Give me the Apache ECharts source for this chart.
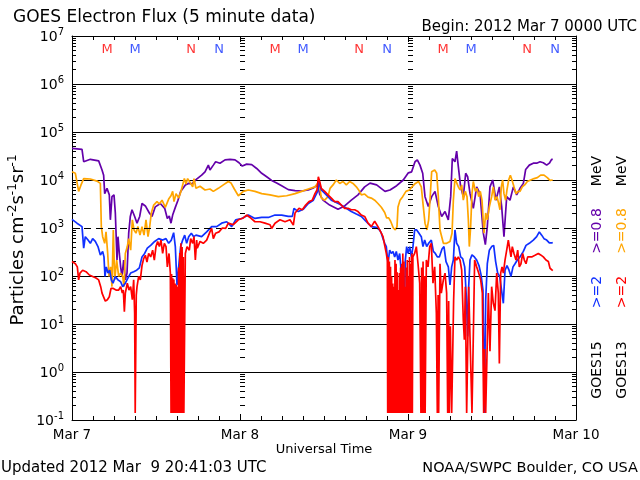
<!DOCTYPE html>
<html><head><meta charset="utf-8">
<script src="https://cdn.jsdelivr.net/npm/echarts@6.0.0/dist/echarts.min.js"></script>
<style>html,body{margin:0;padding:0;background:#fff}#c{width:640px;height:480px}</style>
</head><body><div id="c"></div>
<script>
// Hours since 2012 Mar 7 00:00 UTC, flux in particles cm^-2 s^-1 sr^-1
const xLabels = ['Mar 7', 'Mar 8', 'Mar 9', 'Mar 10'];
const yExp = ['-1', '0', '1', '2', '3', '4', '5', '6', '7'];

// GOES15 >=0.8 MeV (purple)
const g15Lo = [[0,45700],[1.43,43600],[1.67,24000],[2.62,27000],[3.81,25000],[4.29,16200],[4.52,12600],[4.67,5200],[5.0,6700],[5.33,4900],[5.48,1480],[5.71,4500],[6.0,4900],[6.19,2050],[6.43,215],[6.57,660],[6.76,295],[6.95,155],[7.14,98],[7.38,215],[7.62,83],[7.86,115],[8.1,780],[8.33,1740],[8.57,2400],[8.95,1740],[9.29,1260],[9.67,1740],[10.0,3240],[10.48,2880],[11.05,2050],[11.43,1740],[11.9,2760],[12.62,3240],[13.24,2570],[13.62,1580],[13.9,1780],[14.14,1260],[14.38,1860],[14.76,2690],[15.14,3800],[15.52,5750],[15.86,6700],[16.19,7900],[16.67,8500],[17.14,8300],[17.71,10200],
[18.52,12600],[19.0,14800],[19.48,20400],[19.71,16200],[20.19,20400],[20.52,24000],[21.14,22400],[21.86,26300],[22.57,26900],[23.29,26300],[23.86,22900],[24.33,19500],[24.95,21400],[25.67,20900],[26.38,17400],[27.1,13800],[27.81,11700],[28.52,9800],[29.24,8700],[29.95,7600],[30.9,6300],[31.86,6000],[32.81,5900],[33.76,6200],[34.48,6800],[35.1,7900],
[35.4,5000],[35.86,3800],[36.81,3000],[38.0,2450],[38.95,2880],[39.9,3800],[40.86,4900],[41.81,7200],[42.57,8600],
[43.52,7900],[44.71,5800],[45.43,6200],[46.38,7600],[47.33,10000],[48.05,14100],[48.52,14800],[49.0,24000],[49.33,26300],[49.71,20400],[50.1,13800],[50.43,4500],[50.9,2800],[51.38,4500],[51.86,5800],[52.33,2800],[52.81,1740],[53.29,2200],[53.76,1480],[54.1,4500],[54.33,28000],[54.71,24000],[54.95,40000],[55.19,19000],[55.52,7200],[55.9,4500],[56.24,13800],[56.52,11700],[56.86,5200],[57.33,2570],[57.81,7200],[58.29,5200],[58.76,780],[59.05,450],[59.33,1070],[59.71,7200],[60.1,10000],[60.57,3800],[61.05,7200],[61.38,2800],[61.71,660],[62.1,4500],[62.57,3800],[63.05,7200],[63.52,4900],[64.0,6700],[64.48,8500],[64.81,16600],[65.33,20400],[65.9,22400],[66.38,22400],[66.86,24000],[67.33,22900],[67.81,20400],[68.19,22400],[68.52,26900],[68.68,27000]];

// GOES13 >=0.8 MeV (orange)
const g13Lo = [[0,14800],[0.48,13800],[0.95,5800],[1.29,7900],[1.67,10700],[2.62,10500],[3.57,9500],[4.05,8500],[4.19,1070],[4.38,660],[4.67,480],[4.86,830],[5.1,295],[5.29,98],[5.52,155],[5.71,60],[5.9,910],[6.1,83],[6.38,215],[6.67,98],[6.95,115],[7.24,98],[7.43,60],[7.62,295],[7.9,410],[8.1,600],[8.38,345],[8.62,1480],[8.86,910],[9.14,780],[9.43,1070],[9.71,710],[10.0,1070],[10.29,710],[10.57,1480],[10.86,660],[11.1,1070],[11.33,2050],[11.67,3000],[12.14,3550],[12.48,3160],[12.86,3800],[13.33,2690],[13.81,4000],[14.14,4700],[14.38,5800],[14.57,3550],[14.86,5200],[15.24,4200],[15.52,5500],[15.81,7900],[16.05,10700],[16.29,8300],[16.52,10700],[16.9,8700],[17.24,7200],[17.43,10700],[17.71,6700],
[18.29,7400],[19.0,6200],[19.71,6500],[20.19,5800],[20.9,6700],[21.62,7900],[22.33,9300],[22.71,8700],[23.19,6500],[23.76,4700],[24.48,5800],[25.19,6200],[26.14,5800],[27.1,5200],[28.29,4900],[29.48,4500],[30.67,4700],[31.86,5200],[32.81,5800],[33.76,6500],[34.71,7200],[35.29,9300],
[35.62,4200],[36.1,3800],[36.57,4500],[36.86,6700],[37.29,7900],[37.76,10000],[38.24,8500],[38.71,9300],[39.19,7900],[39.67,9300],[40.14,8500],[40.62,7200],[40.95,6200],[41.33,4900],[41.81,5100],[42.29,4400],[42.76,4200],[43.24,3800],[43.71,3240],[44.19,2700],[44.67,2100],[44.95,1620],[45.24,1620],[45.52,1380],[45.9,1000],[46.19,910],[46.43,1070],[46.57,2750],[46.86,3800],[47.24,4500],[47.71,5800],[48.19,6200],[48.57,7200],[49.05,8500],[49.52,9300],[49.9,7200],[50.19,2750],[50.43,1260],[50.71,910],[50.95,1480],[51.14,3800],[51.38,14800],[51.81,16200],[52.1,13800],[52.33,4500],[52.57,910],
[53.05,480],[53.52,480],[54.0,525],[54.29,780],[54.48,3800],[54.71,10700],[54.95,11700],[55.19,7200],[55.43,6200],[55.67,7900],[55.9,3800],[56.19,5800],[56.43,4500],[56.62,1480],[56.76,410],[56.95,1070],[57.14,5200],[57.33,9300],[57.62,5800],[57.86,6700],[58.1,4500],[58.33,5800],[58.57,3800],[58.71,1740],[58.86,780],[59.1,2050],[59.33,1480],[59.62,2750],[59.95,4500],[60.19,7200],[60.43,3800],[60.71,4500],[60.95,3240],[61.14,2400],[61.33,7200],[61.52,10000],[61.71,5200],[61.95,3800],[62.14,6200],[62.38,10000],[62.62,12600],[62.86,10000],[63.14,7200],[63.43,5200],[63.71,5800],[64.0,5800],[64.33,7200],[64.67,7900],[65.05,9300],[65.52,10000],[66.0,10700],[66.48,11200],[66.95,12600],[67.43,12600],[67.9,11200],[68.29,9800],[68.57,10000],[68.68,10000]];

// GOES15 >=2 MeV (blue)
const g15Hi = [[0,1510],[0.71,1260],[1.43,1070],[1.67,380],[1.9,660],[2.29,560],[2.62,480],[2.95,600],[3.33,525],[3.71,410],[4.05,275],[4.38,325],[4.57,250],[4.71,98],[4.9,155],[5.14,115],[5.38,132],[5.62,83],[5.86,71],[6.19,98],[6.57,83],[6.95,76],[7.24,60],[7.62,71],[8.0,91],[8.38,115],[8.81,123],[9.24,132],[9.62,148],[10.0,250],[10.38,295],[10.76,380],[11.24,435],[11.81,525],[12.38,600],[12.95,560],[13.43,600],[13.81,480],[14.19,560],[14.52,800],[14.76,410],[15.0,65],[15.24,155],[15.52,410],[15.81,560],[16.1,710],[16.38,480],[16.67,660],[17.05,780],[17.38,660],[17.71,710],
[18.52,660],[19.24,830],[19.95,1070],[20.67,1070],[21.38,1260],[22.1,1350],[22.81,1070],[23.38,1480],[24.24,1580],[25.19,1860],[26.14,1580],[27.1,1660],[28.05,1660],[29.0,1860],[29.95,1860],[30.9,1740],[31.48,1740],[31.71,2570],[32.33,2200],[33.05,2450],[33.76,3240],[34.48,3800],[35.14,6000],
[35.3,9300],[35.62,6200],[36.33,4900],[37.05,3800],[37.76,3400],[38.48,3000],[39.19,2570],[39.9,2200],[40.62,1950],[41.33,1740],[42.05,1350],[42.76,1070],[43.48,1030],[43.95,910],[44.19,780],[44.43,600],[44.67,480],[44.9,410],[45.14,180],[45.38,345],[45.62,295],[45.86,325],[46.1,250],[46.33,325],[46.57,215],[46.81,295],[47.05,115],[47.29,37],[47.43,10],[47.62,215],[47.81,410],[48.0,295],[48.24,410],[48.48,250],[48.71,410],[48.95,910],[49.24,910],[49.57,780],[49.9,660],[50.14,410],[50.38,560],[50.67,410],[50.95,480],[51.33,560],[51.62,325],[51.9,295],[52.19,250],[52.48,250],[52.86,365],
[53.14,410],[53.43,200],[53.76,155],[54.0,65],[54.24,155],[54.48,215],[54.71,910],[54.95,480],[55.24,410],[55.52,250],[55.81,230],[56.1,155],[56.33,37],[56.52,5.5],[56.67,60],[56.86,215],[57.14,275],[57.48,250],[57.81,215],[58.14,165],[58.43,107],[58.71,51],[58.9,0.14],[59.1,32],[59.33,180],[59.62,345],[59.95,410],[60.24,435],[60.52,200],[60.81,115],[61.1,98],[61.38,107],[61.62,27],[61.86,132],[62.14,165],[62.43,132],[62.71,98],[63.0,155],[63.29,180],[63.62,215],[64.0,250],[64.48,325],[64.86,435],[65.33,480],[65.9,560],[66.38,660],[66.76,830],[67.1,710],[67.43,600],[67.81,560],[68.19,490],[68.57,490],[68.68,500]];

// GOES13 >=2 MeV (red)
const g13Hi = [[0,200],[0.48,180],[0.76,155],[0.95,83],[1.14,115],[1.52,132],[2.0,123],[2.48,105],[2.95,98],[3.43,91],[3.81,83],[4.1,60],[4.29,44],[4.57,35],[4.76,30],[5.05,32],[5.33,37],[5.57,55],[5.9,55],[6.29,51],[6.67,51],[6.95,60],[7.19,44],[7.33,51],[7.48,18],[7.62,44],[7.9,71],[8.14,51],[8.38,60],[8.62,32],[8.81,83],[8.95,17],[9.03,0.14],[9.1,0.14],[9.18,40],[9.29,60],[9.52,98],[9.76,83],[10.0,165],[10.24,230],[10.48,270],[10.71,195],[10.95,295],[11.24,250],[11.52,345],[11.76,215],[12.0,410],[12.24,525],[12.48,410],[12.71,560],[12.95,295],[13.19,480],[13.43,410],[13.62,155],[13.86,295],[14.05,115],
[14.15,0.14],[14.23,110],[14.31,0.14],[14.4,90],[14.48,0.14],[14.56,85],[14.65,0.14],[14.73,70],[14.81,0.14],[14.9,65],[14.98,0.14],[15.06,60],[15.15,0.14],[15.23,150],[15.31,0.14],[15.4,300],[15.48,0.14],[15.56,480],[15.65,0.14],[15.73,400],[15.81,0.14],[15.9,250],[15.98,0.14],
[16.19,295],[16.43,410],[16.76,345],[16.95,600],[17.24,480],[17.43,660],[17.62,215],[17.81,560],[17.9,380],[18.29,525],[18.76,480],[19.24,560],[19.71,830],[19.95,980],[20.19,600],[20.52,780],[21.0,830],[21.48,1000],[21.95,980],[22.33,1260],[23.05,1170],[23.76,1480],[24.48,1620],[24.95,1860],[25.43,1660],[26.14,1350],[26.86,1350],[27.57,1260],[28.29,1170],[28.52,980],[29.0,1260],[29.71,1480],[30.43,1350],[31.14,1480],[31.62,1150],[31.86,2050],[32.43,2570],[32.9,2400],[33.38,3000],[33.86,3550],[34.33,3800],[34.71,5200],[35.0,6200],[35.19,11700],
[35.38,9300],[35.62,6700],[36.1,5800],[36.57,4900],[37.05,4200],[37.52,3550],[38.0,3550],[38.48,3000],[38.95,2570],[39.43,2570],[39.9,2400],[40.38,2400],[40.86,2200],[41.33,1860],[41.81,1740],[42.29,1260],[42.76,1070],[43.24,1380],[43.71,1070],[44.19,780],[44.43,660],[44.67,435],[44.9,295],[45.05,215],
[45.1,0.14],[45.18,250],[45.26,0.14],[45.34,200],[45.42,0.14],[45.5,155],[45.58,0.14],[45.66,98],[45.74,0.14],[45.82,70],[45.9,0.14],[45.98,60],[46.06,0.14],[46.14,215],[46.22,0.14],[46.3,180],[46.38,0.14],[46.46,120],[46.54,0.14],[46.62,51],[46.7,0.14],[46.78,115],[46.86,0.14],[46.94,150],[47.02,0.14],[47.1,180],[47.18,0.14],[47.26,295],[47.34,0.14],[47.42,200],[47.5,0.14],[47.58,60],[47.66,0.14],[47.74,150],[47.82,0.14],[47.9,215],[47.98,0.14],[48.06,98],[48.14,0.14],[48.22,250],[48.3,0.14],[48.38,180],[48.46,0.14],[48.54,295],[48.62,0.14],[48.7,250],
[48.95,295],[49.19,410],[49.43,180],[49.67,71],[49.85,0.14],[49.95,150],[50.05,0.14],[50.15,200],[50.25,0.14],[50.35,100],[50.45,0.14],[50.62,215],[50.86,155],[51.1,410],[51.33,480],[51.57,71],[51.81,155],[52.05,17],[52.19,0.14],[52.3,40],[52.38,0.14],[52.57,180],[52.76,44],
[53.05,83],[53.29,115],[53.52,44],[53.67,0.14],[53.81,30],[53.9,0.14],[54.05,9],[54.24,0.14],[54.38,0.14],[54.52,32],[54.71,250],[54.95,215],[55.19,250],[55.43,215],[55.67,132],[55.9,12],[56.05,4.7],[56.19,60],[56.38,0.14],[56.52,0.14],[56.67,60],[56.9,60],[57.14,0.14],[57.29,0.14],[57.52,215],[57.81,155],[58.1,115],[58.38,83],[58.62,44],[58.81,0.14],[58.95,3],[59.1,0.14],[59.29,0.14],[59.48,44],[59.71,2.7],[59.95,60],[60.19,27],[60.43,19],[60.67,115],[60.9,44],[61.05,1.5],[61.24,115],[61.43,155],[61.62,115],[61.86,215],[62.1,345],[62.33,560],[62.57,560],[62.71,250],[62.9,410],[63.14,295],[63.43,215],[63.67,345],[63.9,155],[64.14,180],[64.38,295],[64.62,215],[64.86,180],[65.1,250],[65.33,230],[65.67,250],[66.14,270],[66.62,295],[66.95,275],[67.33,250],[67.71,215],[68.05,200],[68.29,145],[68.57,133],[68.68,130]];

// Local midnight (M) / noon (N) markers, hours
const m13 = [5, 29, 53];
const m15 = [9, 33, 57];
const n13 = [17, 41, 65];
const n15 = [21, 45, 69];

const FONT = 'DejaVu Sans';
const C_PURPLE = '#6400aa', C_ORANGE = '#ffa500', C_BLUE = '#1030ff', C_RED = '#ff0000';
const MARK_Y = 5.2e6;

const chart = echarts.init(document.getElementById('c'), null, {renderer: 'canvas'});

function xAxisCfg(pos, labels) {
  return {
    type: 'value', min: 0, max: 72, interval: 24, position: pos, gridIndex: 0,
    axisLine: {show: true, onZero: false, lineStyle: {color: '#000', width: 1}},
    axisTick: {show: true, inside: true, length: 6, lineStyle: {color: '#000', width: 1}},
    minorTick: {show: true, splitNumber: 8, length: 4, lineStyle: {color: '#000', width: 1}},
    axisLabel: {show: labels, formatter: (v) => xLabels[Math.round(v / 24)], color: '#000', fontFamily: FONT, fontSize: 13.5, margin: 8},
    splitLine: {show: false}
  };
}
function yAxisCfg(pos, offset, opts) {
  return Object.assign({
    type: 'log', logBase: 10, min: 0.1, max: 1e7, position: pos, offset: offset, gridIndex: 0,
    axisLine: {show: true, onZero: false, lineStyle: {color: '#000', width: 1}},
    axisTick: {show: true, inside: true, length: 8, lineStyle: {color: '#000', width: 1}},
    minorTick: {show: true, splitNumber: 9, length: 4, lineStyle: {color: '#000', width: 1}},
    axisLabel: {show: false},
    splitLine: {show: false}
  }, opts || {});
}

const gridColors = ['#000', '#000', '#000', '#000', 'rgba(0,0,0,0)', '#000', '#000', '#000', '#000'];

function markerSeries(times, letter, color) {
  return {
    type: 'scatter', xAxisIndex: 0, yAxisIndex: 0, silent: true, z: 5,
    symbol: 'circle', symbolSize: 1, itemStyle: {color: 'rgba(0,0,0,0)'},
    data: times.map(t => [t, MARK_Y]),
    label: {show: true, position: 'inside', formatter: letter, color: color, fontFamily: FONT, fontSize: 13}
  };
}
function lineSeries(name, data, color, z) {
  return {
    name: name, type: 'line', xAxisIndex: 0, yAxisIndex: 0, data: data,
    showSymbol: false, symbol: 'none', sampling: null, z: z,
    lineStyle: {color: color, width: 1.7}, itemStyle: {color: color}
  };
}

const purple = lineSeries('GOES15 >=0.8 MeV', g15Lo, C_PURPLE, 2);
purple.markLine = {
  silent: true, symbol: 'none', label: {show: false}, animation: false,
  lineStyle: {color: '#000', type: [7, 5], width: 1},
  data: [{yAxis: 1000}]
};

const option = {
  animation: false,
  backgroundColor: '#fff',
  textStyle: {fontFamily: FONT},
  grid: {left: 72, top: 36, width: 504, height: 384, containLabel: false, outerBoundsMode: 'none'},
  xAxis: [xAxisCfg('bottom', true), xAxisCfg('top', false)],
  yAxis: [
    yAxisCfg('left', 0, {
      axisLabel: {
        show: true, margin: 8, color: '#000', fontFamily: FONT,
        formatter: (v, i) => '{b|10}{s|' + yExp[i] + '}',
        rich: {
          b: {fontSize: 14, fontFamily: FONT, color: '#000', verticalAlign: 'bottom'},
          s: {fontSize: 10, fontFamily: FONT, color: '#000', verticalAlign: 'bottom', padding: [0, 0, 7, 0]}
        }
      },
      splitLine: {show: true, lineStyle: {color: gridColors, width: 1}}
    }),
    yAxisCfg('right', 0),
    yAxisCfg('left', -168, {axisLine: {show: false}, axisTick: {show: true, inside: true, length: 5, lineStyle: {color: '#000'}}, minorTick: {show: true, splitNumber: 9, length: 5, lineStyle: {color: '#000'}}}),
    yAxisCfg('left', -336, {axisLine: {show: false}, axisTick: {show: true, inside: true, length: 5, lineStyle: {color: '#000'}}, minorTick: {show: true, splitNumber: 9, length: 5, lineStyle: {color: '#000'}}})
  ],
  series: [
    purple,
    lineSeries('GOES13 >=0.8 MeV', g13Lo, C_ORANGE, 3),
    lineSeries('GOES15 >=2 MeV', g15Hi, C_BLUE, 4),
    lineSeries('GOES13 >=2 MeV', g13Hi, C_RED, 5),
    markerSeries(m13, 'M', C_RED),
    markerSeries(m15, 'M', C_BLUE),
    markerSeries(n13, 'N', C_RED),
    markerSeries(n15, 'N', C_BLUE)
  ],
  graphic: [
    {type: 'text', x: 13, y: 18, style: {text: 'GOES Electron Flux (5 minute data)', font: '17px "DejaVu Sans"', fill: '#000', align: 'left', verticalAlign: 'middle'}},
    {type: 'text', x: 637, y: 27, style: {text: 'Begin: 2012 Mar 7 0000 UTC', font: '15px "DejaVu Sans"', fill: '#000', align: 'right', verticalAlign: 'middle'}},
    {type: 'text', x: 324, y: 450, style: {text: 'Universal Time', font: '13px "DejaVu Sans"', fill: '#000', align: 'center', verticalAlign: 'middle'}},
    {type: 'text', x: 1, y: 468, style: {text: 'Updated 2012 Mar  9 20:41:03 UTC', font: '15px "DejaVu Sans"', fill: '#000', align: 'left', verticalAlign: 'middle'}},
    {type: 'text', x: 638, y: 468, style: {text: 'NOAA/SWPC Boulder, CO USA', font: '14.5px "DejaVu Sans"', fill: '#000', align: 'right', verticalAlign: 'middle'}},
    {type: 'text', x: 17, y: 240, rotation: Math.PI / 2, style: {
      text: '{a|Particles cm}{s|-2}{a|s}{s|-1}{a|sr}{s|-1}', align: 'center', verticalAlign: 'middle',
      rich: {
        a: {fontSize: 18, fontFamily: FONT, fill: '#000', verticalAlign: 'bottom'},
        s: {fontSize: 12, fontFamily: FONT, fill: '#000', verticalAlign: 'bottom', padding: [0, 0, 9, 0]}
      }}},
    {type: 'text', x: 597, y: 370, rotation: Math.PI / 2, style: {text: 'GOES15', font: '14px "DejaVu Sans"', fill: '#000', align: 'center', verticalAlign: 'middle'}},
    {type: 'text', x: 597, y: 292, rotation: Math.PI / 2, style: {text: '>=2', font: '14px "DejaVu Sans"', fill: C_BLUE, align: 'center', verticalAlign: 'middle'}},
    {type: 'text', x: 597, y: 231, rotation: Math.PI / 2, style: {text: '>=0.8', font: '14px "DejaVu Sans"', fill: C_PURPLE, align: 'center', verticalAlign: 'middle'}},
    {type: 'text', x: 597, y: 171, rotation: Math.PI / 2, style: {text: 'MeV', font: '14px "DejaVu Sans"', fill: '#000', align: 'center', verticalAlign: 'middle'}},
    {type: 'text', x: 622, y: 370, rotation: Math.PI / 2, style: {text: 'GOES13', font: '14px "DejaVu Sans"', fill: '#000', align: 'center', verticalAlign: 'middle'}},
    {type: 'text', x: 622, y: 292, rotation: Math.PI / 2, style: {text: '>=2', font: '14px "DejaVu Sans"', fill: C_RED, align: 'center', verticalAlign: 'middle'}},
    {type: 'text', x: 622, y: 231, rotation: Math.PI / 2, style: {text: '>=0.8', font: '14px "DejaVu Sans"', fill: C_ORANGE, align: 'center', verticalAlign: 'middle'}},
    {type: 'text', x: 622, y: 171, rotation: Math.PI / 2, style: {text: 'MeV', font: '14px "DejaVu Sans"', fill: '#000', align: 'center', verticalAlign: 'middle'}}
  ]
};
chart.setOption(option);
</script>
</body></html>
